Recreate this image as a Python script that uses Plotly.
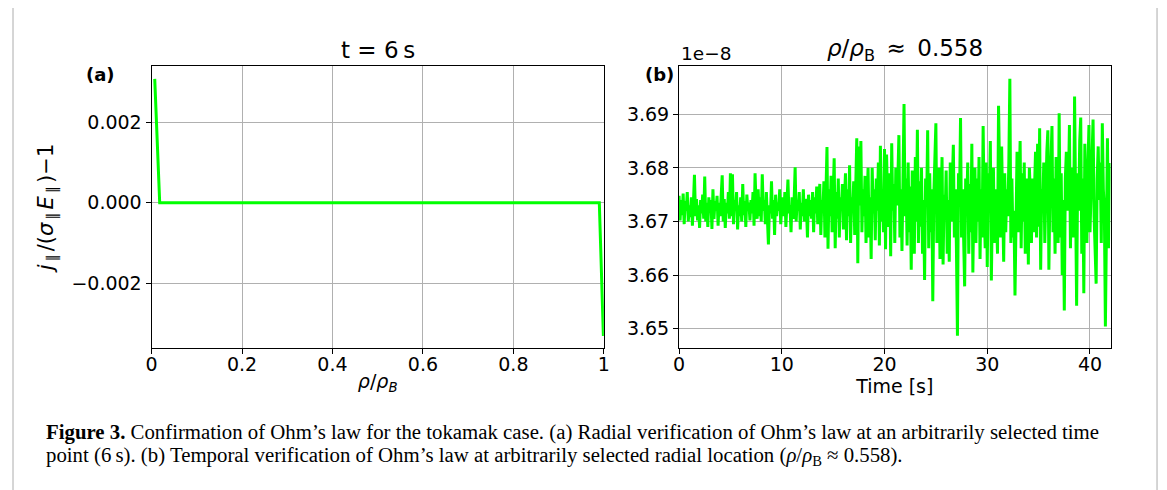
import plotly.graph_objects as go

# ---------------- data ----------------
# Panel (a): radial profile at t = 6 s
rho = [0.007, 0.018, 0.990, 0.999]
ohm_dev = [0.00308, 0.0, 0.0, -0.00331]

# Panel (b): time trace at rho/rho_B ~ 0.558 (values in units of 1e-8), 0.1 s sampling
time_s = [round(i * 0.1, 1) for i in range(421)]
j_vals = [
    3.6748, 3.6702, 3.6740, 3.6712, 3.6752, 3.6695, 3.6738, 3.6720, 3.6755, 3.6700,
    3.6730, 3.6708, 3.6745, 3.6692, 3.6735, 3.6787, 3.6710, 3.6742, 3.6702, 3.6730,
    3.6688, 3.6740, 3.6715, 3.6750, 3.6705, 3.6784, 3.6700, 3.6735, 3.6690, 3.6745,
    3.6718, 3.6740, 3.6686, 3.6760, 3.6705, 3.6738, 3.6720, 3.6748, 3.6692, 3.6735,
    3.6710, 3.6750, 3.6786, 3.6700, 3.6742, 3.6688, 3.6735, 3.6715, 3.6755, 3.6705,
    3.6790, 3.6710, 3.6788, 3.6695, 3.6740, 3.6720, 3.6755, 3.6685, 3.6730, 3.6710,
    3.6745, 3.6700, 3.6770, 3.6712, 3.6738, 3.6690, 3.6750, 3.6720, 3.6735, 3.6702,
    3.6740, 3.6715, 3.6755, 3.6692, 3.6790, 3.6730, 3.6705, 3.6760, 3.6710, 3.6745,
    3.6700, 3.6788, 3.6720, 3.6740, 3.6695, 3.6755, 3.6712, 3.6657, 3.6730, 3.6715,
    3.6775, 3.6705, 3.6740, 3.6675, 3.6750, 3.6710, 3.6735, 3.6720, 3.6760, 3.6695,
    3.6730, 3.6745, 3.6710, 3.6755, 3.6690, 3.6740, 3.6778, 3.6715, 3.6730, 3.6680,
    3.6745, 3.6705, 3.6738, 3.6801, 3.6700, 3.6740, 3.6720, 3.6755, 3.6685, 3.6735,
    3.6710, 3.6760, 3.6700, 3.6742, 3.6725, 3.6670, 3.6750, 3.6710, 3.6740, 3.6705,
    3.6755, 3.6680, 3.6745, 3.6715, 3.6765, 3.6695, 3.6735, 3.6770, 3.6675, 3.6740,
    3.6720, 3.6775, 3.6670, 3.6750, 3.6839, 3.6649, 3.6760, 3.6710, 3.6785, 3.6680,
    3.6740, 3.6818, 3.6650, 3.6755, 3.6705, 3.6780, 3.6670, 3.6745, 3.6720, 3.6770,
    3.6685, 3.6750, 3.6790, 3.6665, 3.6760, 3.6710, 3.6805, 3.6660, 3.6745, 3.6720,
    3.6775, 3.6675, 3.6750, 3.6855, 3.6622, 3.6840, 3.6730, 3.6850, 3.6680, 3.6760,
    3.6710, 3.6785, 3.6660, 3.6755, 3.6800, 3.6670, 3.6745, 3.6630, 3.6800, 3.6715,
    3.6760, 3.6665, 3.6780, 3.6720, 3.6810, 3.6655, 3.6841, 3.6700, 3.6760, 3.6680,
    3.6835, 3.6648, 3.6825, 3.6740, 3.6690, 3.6790, 3.6635, 3.6846, 3.6720, 3.6770,
    3.6660, 3.6800, 3.6730, 3.6780, 3.6861, 3.6670, 3.6760, 3.6645, 3.6790, 3.6919,
    3.6710, 3.6780, 3.6655, 3.6810, 3.6680, 3.6765, 3.6610, 3.6795, 3.6720, 3.6640,
    3.6820, 3.6700, 3.6871, 3.6660, 3.6775, 3.6690, 3.6800, 3.6640, 3.6740, 3.6591,
    3.6780, 3.6730, 3.6870, 3.6650, 3.6790, 3.6680, 3.6760, 3.6551, 3.6750, 3.6820,
    3.6883, 3.6660, 3.6760, 3.6800, 3.6630, 3.6720, 3.6820, 3.6620, 3.6750, 3.6710,
    3.6795, 3.6640, 3.6740, 3.6625, 3.6810, 3.6700, 3.6780, 3.6843, 3.6670, 3.6760,
    3.6650, 3.6487, 3.6790, 3.6740, 3.6893, 3.6670, 3.6760, 3.6660, 3.6579, 3.6780,
    3.6720, 3.6810, 3.6640, 3.6770, 3.6680, 3.6845, 3.6605, 3.6750, 3.6800, 3.6660,
    3.6780, 3.6700, 3.6820, 3.6630, 3.6760, 3.6670, 3.6878, 3.6720, 3.6650, 3.6810,
    3.6615, 3.6790, 3.6740, 3.6850, 3.6590, 3.6730, 3.6800, 3.6660, 3.6760, 3.6710,
    3.6640, 3.6916, 3.6750, 3.6670, 3.6840, 3.6720, 3.6625, 3.6790, 3.6680, 3.6760,
    3.6710, 3.6810, 3.6966, 3.6660, 3.6780, 3.6670, 3.6720, 3.6562, 3.6760, 3.6830,
    3.6680, 3.6770, 3.6850, 3.6650, 3.6790, 3.6700, 3.6810, 3.6640, 3.6740, 3.6780,
    3.6620, 3.6800, 3.6750, 3.6660, 3.6780, 3.6680, 3.6760, 3.6830, 3.6670, 3.6845,
    3.6690, 3.6874, 3.6610, 3.6760, 3.6720, 3.6810, 3.6660, 3.6780, 3.6830, 3.6870,
    3.6610, 3.6750, 3.6800, 3.6878, 3.6680, 3.6780, 3.6640, 3.6820, 3.6720, 3.6660,
    3.6902, 3.6670, 3.6790, 3.6600, 3.6740, 3.6534, 3.6780, 3.6830, 3.6720, 3.6760,
    3.6880, 3.6650, 3.6800, 3.6730, 3.6670, 3.6933, 3.6740, 3.6543, 3.6790, 3.6720,
    3.6850, 3.6894, 3.6640, 3.6780, 3.6566, 3.6845, 3.6730, 3.6660, 3.6800, 3.6880,
    3.6680, 3.6760, 3.6830, 3.6890, 3.6710, 3.6620, 3.6584, 3.6780, 3.6840, 3.6740,
    3.6810, 3.6660, 3.6883, 3.6760, 3.6720, 3.6504, 3.6750, 3.6855, 3.6650, 3.6780,
    3.6809,
]

x_ticks_a = [0, 0.2, 0.4, 0.6, 0.8, 1]
y_ticks_a = [-0.002, 0.0, 0.002]
x_ticks_b = [0, 10, 20, 30, 40]
y_ticks_b = [3.65, 3.66, 3.67, 3.68, 3.69]

caption_line1 = ("<b>Figure 3.</b> Confirmation of Ohm\u2019s law for the tokamak case. "
                 "(a) Radial verification of Ohm\u2019s law at an arbitrarily selected time")
caption_line2 = ("point (6\u2009s). (b) Temporal verification of Ohm\u2019s law at arbitrarily "
                 "selected radial location (<i>\u03c1</i>/<i>\u03c1</i><sub>B</sub> \u2248 0.558).")

# ---------------- figure ----------------
# the page body has an 8 px margin, so the figure is placed 8 px in from the corner
OFF = 8
W, H = 1167 - OFF, 490 - OFF
GREEN = "#00ff00"
TICKFONT = dict(family="DejaVu Sans", size=19, color="black")
LABELFONT = dict(family="DejaVu Sans", size=19, color="black")

def px_x(p):
    return (p - OFF) / W

def px_y(p):
    return 1 - (p - OFF) / H

fig = go.Figure()
fig.add_trace(go.Scatter(x=rho, y=ohm_dev, mode="lines",
                         line=dict(color=GREEN, width=3),
                         xaxis="x", yaxis="y", showlegend=False))
fig.add_trace(go.Scatter(x=time_s, y=j_vals, mode="lines",
                         line=dict(color=GREEN, width=3),
                         xaxis="x2", yaxis="y2", showlegend=False))

axis_common = dict(showline=True, linecolor="black", linewidth=1.1, mirror=True,
                   ticks="outside", ticklen=5, tickwidth=1.1, tickcolor="black",
                   showgrid=True, gridcolor="#b0b0b0", gridwidth=1,
                   zeroline=False, tickfont=TICKFONT)

top, bottom = 66, 348
ydom = [px_y(bottom), px_y(top)]

ylab_a = ("<i>j</i><sub>\u2009\u2225\u2009</sub>/(<i>\u03c3</i><sub>\u2009\u2225\u2009</sub>"
          "<i>E</i><sub>\u2009\u2225\u2009</sub>)\u22121")

fig.update_layout(
    width=W, height=H,
    margin=dict(l=0, r=0, t=0, b=0),
    paper_bgcolor="white", plot_bgcolor="white",
    xaxis=dict(domain=[px_x(147), px_x(604)], range=[0, 1], anchor="y",
               tickvals=x_ticks_a, ticktext=["0", "0.2", "0.4", "0.6", "0.8", "1"],
               ticklabelstandoff=-6,
               title=dict(text="<i>\u03c1</i>/<i>\u03c1<sub>B</sub></i>",
                          font=LABELFONT, standoff=0),
               **axis_common),
    yaxis=dict(domain=ydom, range=[-0.00361, 0.0034], anchor="x",
               tickvals=y_ticks_a, tickformat=".3f",
               title=dict(text=ylab_a, font=dict(family="DejaVu Sans", size=21, color="black"),
                          standoff=12),
               **axis_common),
    xaxis2=dict(domain=[px_x(680), px_x(1116)], range=[0, 42], anchor="y2",
                tickvals=x_ticks_b, ticklabelstandoff=-6,
                title=dict(text="Time [s]", font=LABELFONT, standoff=0),
                **axis_common),
    yaxis2=dict(domain=ydom, range=[3.6464, 3.699], anchor="x2",
                tickvals=y_ticks_b, tickformat=".2f",
                **axis_common),
)

annotations = [
    dict(text="t = 6\u2009s", x=px_x(376), y=px_y(50), xref="paper", yref="paper",
         showarrow=False, font=dict(family="DejaVu Sans", size=23, color="black"),
         xanchor="center", yanchor="middle"),
    dict(text="<i>\u03c1</i>/<i>\u03c1</i><sub>B</sub>\u2002\u2248\u20020.558", x=px_x(908), y=px_y(50),
         xref="paper", yref="paper", showarrow=False,
         font=dict(family="DejaVu Sans", size=23, color="black"),
         xanchor="center", yanchor="middle"),
    dict(text="<b>(a)</b>", x=px_x(95), y=px_y(75), xref="paper", yref="paper",
         showarrow=False, font=dict(family="DejaVu Sans", size=18, color="black"),
         xanchor="center", yanchor="middle"),
    dict(text="<b>(b)</b>", x=px_x(660), y=px_y(75), xref="paper", yref="paper",
         showarrow=False, font=dict(family="DejaVu Sans", size=18, color="black"),
         xanchor="center", yanchor="middle"),
    dict(text="1e\u22128", x=px_x(680), y=px_y(53), xref="paper", yref="paper",
         showarrow=False, font=dict(family="DejaVu Sans", size=18.5, color="black"),
         xanchor="left", yanchor="middle"),
    dict(text=caption_line1, x=px_x(38), y=px_y(432), xref="paper", yref="paper",
         showarrow=False, font=dict(family="Liberation Serif", size=20.8, color="black"),
         xanchor="left", yanchor="middle"),
    dict(text=caption_line2, x=px_x(38), y=px_y(456), xref="paper", yref="paper",
         showarrow=False, font=dict(family="Liberation Serif", size=20.8, color="black"),
         xanchor="left", yanchor="middle"),
]
fig.update_layout(annotations=annotations)

# light frame around the figure
fig.add_shape(type="rect", xref="paper", yref="paper",
              x0=px_x(7), x1=px_x(1163), y0=-0.05, y1=px_y(4),
              line=dict(color="#c8c8c8", width=1.5), fillcolor="rgba(0,0,0,0)")

fig.write_html("out.html")
